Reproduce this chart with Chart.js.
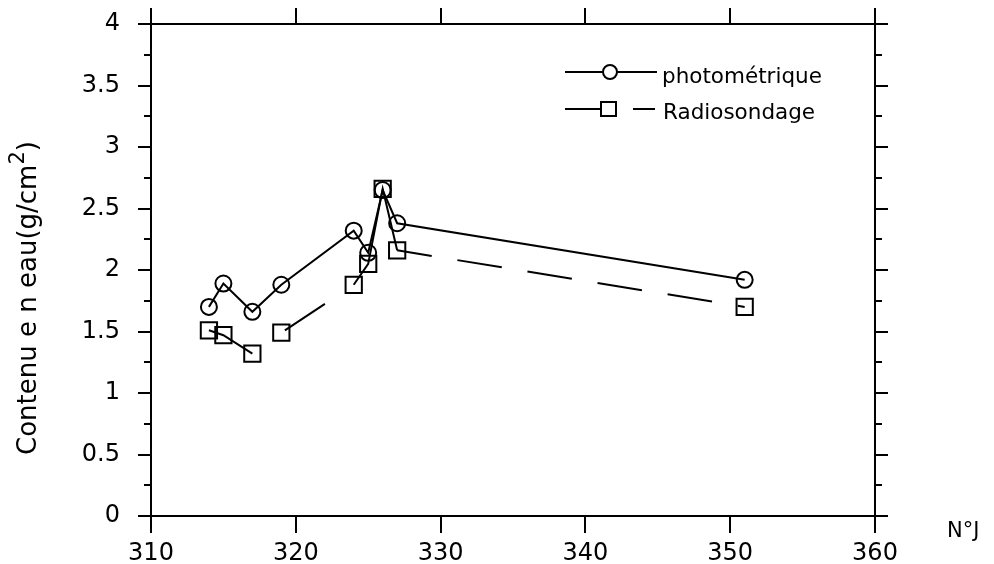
<!DOCTYPE html>
<html>
<head>
<meta charset="utf-8">
<script src="https://cdn.jsdelivr.net/npm/chart.js@4.4.0/dist/chart.umd.min.js"></script>
<style>
  html, body { margin: 0; padding: 0; background: #ffffff; }
  #wrap { width: 994px; height: 564px; }
</style>
</head>
<body>
<div id="wrap"><canvas id="waterChart" width="994" height="564"></canvas></div>
<script>
// jours (N°J) et contenu en eau (g/cm2)
const photoDays = [314, 315, 317, 319, 324, 325, 326, 327, 351];
const photoValues = [1.70, 1.89, 1.66, 1.88, 2.32, 2.14, 2.65, 2.38, 1.92];

const radioDays = [314, 315, 317, 319, 324, 325, 326, 327, 351];
const radioValues = [1.51, 1.47, 1.32, 1.49, 1.88, 2.05, 2.66, 2.16, 1.70];

const xTicks = [310, 320, 330, 340, 350, 360];
const yTicks = [0, 0.5, 1, 1.5, 2, 2.5, 3, 3.5, 4];

const seriesNames = ["photométrique", "Radiosondage"];
const yTitle = "Contenu e n eau(g/cm";
const xTitle = "N°J";

const ink = "#000000";
const fontName = "'DejaVu Sans', sans-serif";

function toPoints(days, values) {
  let points = [];
  for (let i = 0; i < days.length; i++) {
    points.push({ x: days[i], y: values[i] });
  }
  return points;
}

// radiosondage : pleins au début, tirets après le jour 317
function isDashed(ctx) {
  const dx = ctx.p1.parsed.x - ctx.p0.parsed.x;
  return ctx.p0.parsed.x >= 317 && dx > 1;
}

function radioDash(ctx) {
  if (!isDashed(ctx)) {
    return [];
  }
  if (ctx.p0.parsed.x < 327) {
    return [48, 40];
  }
  return [45, 26];
}

function radioDashOffset(ctx) {
  if (!isDashed(ctx)) {
    return 0;
  }
  if (ctx.p0.parsed.x < 327) {
    return 48;
  }
  return 10;
}

const frameLines = {
  id: "frameLines",
  afterDraw(chart) {
    const ctx = chart.ctx;
    const area = chart.chartArea;
    const xs = chart.scales.x;
    const ys = chart.scales.y;

    ctx.save();
    ctx.strokeStyle = ink;
    ctx.lineWidth = 2;
    ctx.strokeRect(area.left, area.top, area.right - area.left, area.bottom - area.top);

    ctx.beginPath();
    xTicks.forEach(function (v) {
      const px = Math.round(xs.getPixelForValue(v));
      ctx.moveTo(px, area.top - 16);
      ctx.lineTo(px, area.top);
      ctx.moveTo(px, area.bottom);
      ctx.lineTo(px, area.bottom + 17);
    });
    for (let v = 0; v <= 4.001; v += 0.25) {
      const py = Math.round(ys.getPixelForValue(v));
      const major = Math.abs(v * 2 - Math.round(v * 2)) < 0.001;
      const len = major ? 13 : 7;
      ctx.moveTo(area.left - len, py);
      ctx.lineTo(area.left, py);
      ctx.moveTo(area.right, py);
      ctx.lineTo(area.right + len, py);
    }
    ctx.stroke();

    // titre de l'axe Y (vertical)
    ctx.fillStyle = ink;
    ctx.translate(29, 298);
    ctx.rotate(-Math.PI / 2);
    ctx.font = "26px " + fontName;
    const w1 = ctx.measureText(yTitle).width;
    const w3 = ctx.measureText(")").width;
    ctx.font = "21px " + fontName;
    const w2 = ctx.measureText("2").width;
    const total = w1 + w2 + w3;
    ctx.textBaseline = "middle";
    ctx.textAlign = "left";
    ctx.font = "26px " + fontName;
    ctx.fillText(yTitle, -total / 2, 0);
    ctx.font = "21px " + fontName;
    ctx.fillText("2", -total / 2 + w1, -10);
    ctx.font = "26px " + fontName;
    ctx.fillText(")", -total / 2 + w1 + w2, 0);
    ctx.restore();

    // titre de l'axe X
    ctx.save();
    ctx.fillStyle = ink;
    ctx.font = "21px " + fontName;
    ctx.textBaseline = "middle";
    ctx.textAlign = "left";
    ctx.fillText(xTitle, area.right + 72, area.bottom + 16);
    ctx.restore();

    // légende
    ctx.save();
    ctx.strokeStyle = ink;
    ctx.fillStyle = ink;
    ctx.lineWidth = 2;
    const lx = area.right - 310;
    const row1 = area.top + 48;
    const row2 = area.top + 85;

    ctx.beginPath();
    ctx.moveTo(lx, row1);
    ctx.lineTo(lx + 92, row1);
    ctx.stroke();
    ctx.beginPath();
    ctx.arc(lx + 45, row1, 7, 0, Math.PI * 2);
    ctx.fillStyle = "#ffffff";
    ctx.fill();
    ctx.stroke();

    ctx.beginPath();
    ctx.moveTo(lx, row2);
    ctx.lineTo(lx + 36, row2);
    ctx.moveTo(lx + 68, row2);
    ctx.lineTo(lx + 90, row2);
    ctx.stroke();
    ctx.strokeRect(lx + 36, row2 - 7, 15, 14);

    ctx.fillStyle = ink;
    ctx.font = "21.5px " + fontName;
    ctx.textAlign = "left";
    ctx.textBaseline = "alphabetic";
    ctx.fillText(seriesNames[0], lx + 97, row1 + 11);
    ctx.fillText(seriesNames[1], lx + 98, row2 + 10);
    ctx.restore();
  }
};

const ctx = document.getElementById("waterChart").getContext("2d");

const waterChart = new Chart(ctx, {
  type: "scatter",
  data: {
    datasets: [
      {
        label: seriesNames[0],
        data: toPoints(photoDays, photoValues),
        showLine: true,
        borderColor: ink,
        borderWidth: 2,
        pointStyle: "circle",
        pointRadius: 8,
        pointBorderWidth: 2,
        pointBorderColor: ink,
        pointBackgroundColor: "rgba(255,255,255,0)"
      },
      {
        label: seriesNames[1],
        data: toPoints(radioDays, radioValues),
        showLine: true,
        borderColor: ink,
        borderWidth: 2,
        pointStyle: "rect",
        pointRadius: 11.5,
        pointBorderWidth: 2,
        pointBorderColor: ink,
        pointBackgroundColor: "rgba(255,255,255,0)",
        segment: {
          borderDash: radioDash,
          borderDashOffset: radioDashOffset
        }
      }
    ]
  },
  options: {
    responsive: false,
    animation: false,
    devicePixelRatio: 1,
    layout: {
      padding: { left: 0, right: 119, top: 24, bottom: 0 }
    },
    plugins: {
      legend: { display: false },
      tooltip: { enabled: false }
    },
    scales: {
      x: {
        type: "linear",
        min: 310,
        max: 360,
        afterFit: function (scale) {
          scale.height = 48;
          scale.paddingLeft = 0;
          scale.paddingRight = 0;
        },
        afterBuildTicks: function (scale) {
          scale.ticks = xTicks.map(function (v) { return { value: v }; });
        },
        grid: { display: false, drawTicks: false },
        border: { display: false },
        ticks: {
          color: ink,
          padding: 23,
          maxRotation: 0,
          font: { family: "DejaVu Sans", size: 24 },
          callback: function (value) {
            return String(value);
          }
        }
      },
      y: {
        type: "linear",
        min: 0,
        max: 4,
        afterFit: function (scale) {
          scale.width = 151;
          scale.paddingTop = 0;
          scale.paddingBottom = 0;
        },
        afterBuildTicks: function (scale) {
          scale.ticks = yTicks.map(function (v) { return { value: v }; });
        },
        grid: { display: false, drawTicks: false },
        border: { display: false },
        ticks: {
          color: ink,
          padding: 31,
          font: { family: "DejaVu Sans", size: 24 },
          callback: function (value) {
            return String(value);
          }
        }
      }
    }
  },
  plugins: [frameLines]
});
</script>
</body>
</html>
